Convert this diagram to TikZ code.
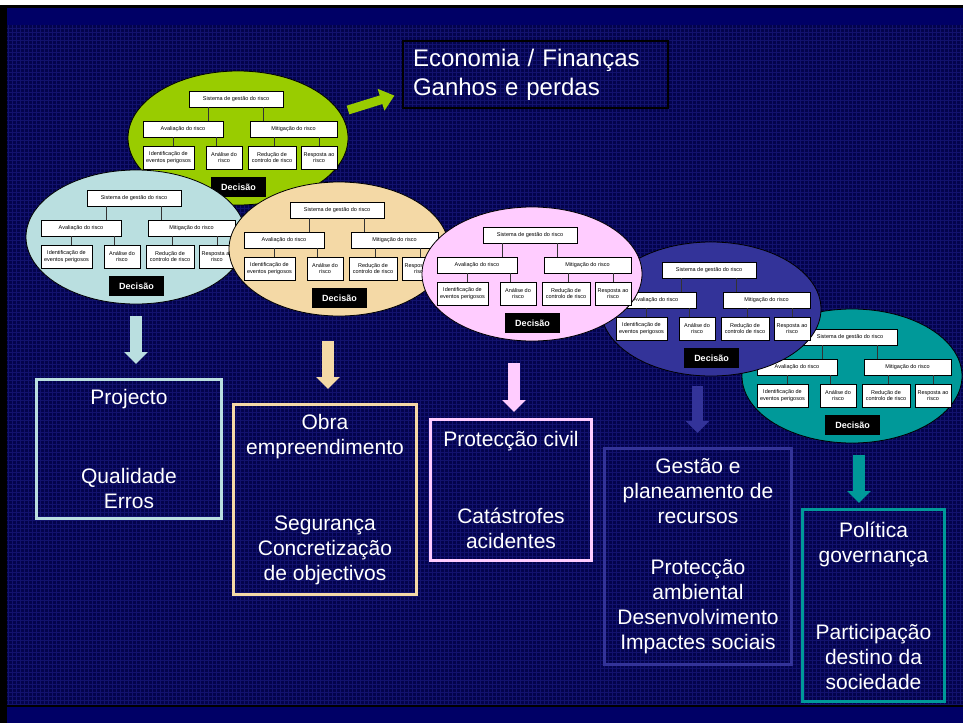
\documentclass[tikz,border=0pt]{standalone}
\usepackage{fontspec}
\setmainfont{Liberation Sans}
\usetikzlibrary{shapes.geometric,arrows.meta}
\definecolor{navy}{HTML}{000066}
\definecolor{gridbg}{HTML}{03034C}
\definecolor{gridln}{HTML}{12126E}
\definecolor{rgreen}{HTML}{99CC00}
\definecolor{rlight}{HTML}{BADFE0}
\definecolor{rtan}{HTML}{F4D9A6}
\definecolor{rpink}{HTML}{FFCCFF}
\definecolor{rdark}{HTML}{333399}
\definecolor{rteal}{HTML}{009999}
\tikzset{
  blob/.style={ellipse,draw=black,line width=0.8pt,minimum width=220pt,minimum height=134pt,inner sep=0pt},
  cbox/.style={draw=black,line width=0.9pt,fill=white,font=\fontsize{5.5}{6.2}\selectfont,align=center,inner sep=0pt},
  decbox/.style={fill=black,text=white,font=\bfseries\fontsize{9}{10}\selectfont,minimum width=55pt,minimum height=20pt,inner sep=0pt},
  link/.style={line width=0.9pt,draw=black!80},
  outbox/.style={draw,line width=3pt,text=white,align=center,inner sep=0pt,font=\fontsize{21}{25}\selectfont},
  downarrow/.style={line width=11.5pt,-{Triangle[width=23pt,length=12pt]}}
}
\begin{document}
\begin{tikzpicture}[x=1pt,y=-1pt]
\useasboundingbox (0,0) rectangle (963,723);
%slide background
\fill[white] (0,0) rectangle (963,723);
\fill[black] (0,5) rectangle (963,723);
\fill[navy] (7,8) rectangle (963,25);
\fill[gridbg] (7,25) rectangle (963,705);
\draw[gridln,line width=0.45pt,xstep=4pt,ystep=4pt] (7,25) grid (963,705);
\fill[navy] (7,707) rectangle (963,723);
%risk management charts
\foreach \n/\x/\y/\c in {g/236/99/rgreen,b/134/198/rlight,t/337/210/rtan,q/850/337/rteal,d/709/270/rdark,p/530/235/rpink}{
  \begin{scope}[shift={(\x,\y)}]
  \node[blob,fill=\c] (\n) at (2,39) {};
  \node[cbox,minimum width=94pt,minimum height=16pt] (\n-sis) at (0,0) {Sistema de gestão do risco};
  \node[cbox,minimum width=80pt,minimum height=16pt] (\n-ava) at (-53,30) {Avaliação do risco};
  \node[cbox,minimum width=87pt,minimum height=16pt] (\n-mit) at (57.5,30) {Mitigação do risco};
  \node[cbox,minimum width=51pt,minimum height=23pt] (\n-ide) at (-67.5,58.5) {Identificação de\\eventos perigosos};
  \node[cbox,minimum width=36pt,minimum height=23pt] (\n-ana) at (-12,58.5) {Análise do\\risco};
  \node[cbox,minimum width=48pt,minimum height=23pt] (\n-red) at (36,58.5) {Redução de\\controlo de risco};
  \node[cbox,minimum width=36pt,minimum height=23pt] (\n-res) at (83,58.5) {Resposta ao\\risco};
  \node[decbox] (\n-dec) at (2.5,88) {Decisão};
  \draw[link] ([xshift=25pt]\n-ava.north) -- ([xshift=25pt]\n-ava.north |- \n-sis.south);
  \draw[link] ([xshift=-30.5pt]\n-mit.north) -- ([xshift=-30.5pt]\n-mit.north |- \n-sis.south);
  \draw[link] ([xshift=4.5pt]\n-ide.north) -- ([xshift=4.5pt]\n-ide.north |- \n-ava.south);
  \draw[link] ([xshift=-8pt]\n-ana.north) -- ([xshift=-8pt]\n-ana.north |- \n-ava.south);
  \draw[link] ([xshift=2pt]\n-red.north) -- ([xshift=2pt]\n-red.north |- \n-mit.south);
  \draw[link] (\n-res.north) -- (\n-res.north |- \n-mit.south);
  \end{scope}
}
%economy box
\node[draw=black,line width=1.2pt,text=white,align=left,text width=245pt,inner xsep=10pt,minimum height=67pt,font=\fontsize{24}{29}\selectfont] (eco) at (535.5,74.5) {Economia / Finanças\\Ganhos e perdas};
\coordinate (g-a) at (348,110);
\draw[line width=9pt,rgreen,-{Triangle[width=22pt,length=14pt]}] (g-a) -- ([xshift=-8pt,yshift=13pt]eco.south west);
%outcomes
\node[outbox,draw=rlight,minimum width=185pt,minimum height=139pt] (proj) at (129,449) {Projecto\\[54pt]Qualidade\\Erros};
\node[outbox,draw=rtan,minimum width=183pt,minimum height=190pt] (obra) at (325,499.5) {Obra\\empreendimento\\[51pt]Segurança\\Concretização\\de objectivos};
\node[outbox,draw=rpink,minimum width=161pt,minimum height=141pt] (prot) at (511,490) {Protecção civil\\[52pt]Catástrofes\\acidentes};
\node[outbox,draw=rdark,minimum width=187pt,minimum height=216pt] (gest) at (698,556.5) {Gestão e\\planeamento de\\recursos\\[26pt]Protecção\\ambiental\\Desenvolvimento\\Impactes sociais};
\node[outbox,draw=rteal,minimum width=142pt,minimum height=192pt] (pol) at (873.5,605.5) {Política\\governança\\[52pt]Participação\\destino da\\sociedade};
\foreach \n/\x/\y/\o/\s/\c in {b/136/316/proj/14/rlight,t/328/341/obra/14/rtan,p/514/363/prot/6/rpink,d/697.5/386/gest/14/rdark,q/859/455/pol/5/rteal}{
  \coordinate (\n-a) at (\x,\y);
  \draw[downarrow,color=\c,shorten >=\s pt] (\n-a) -- (\n-a |- \o.north);
}
\end{tikzpicture}
\end{document}
